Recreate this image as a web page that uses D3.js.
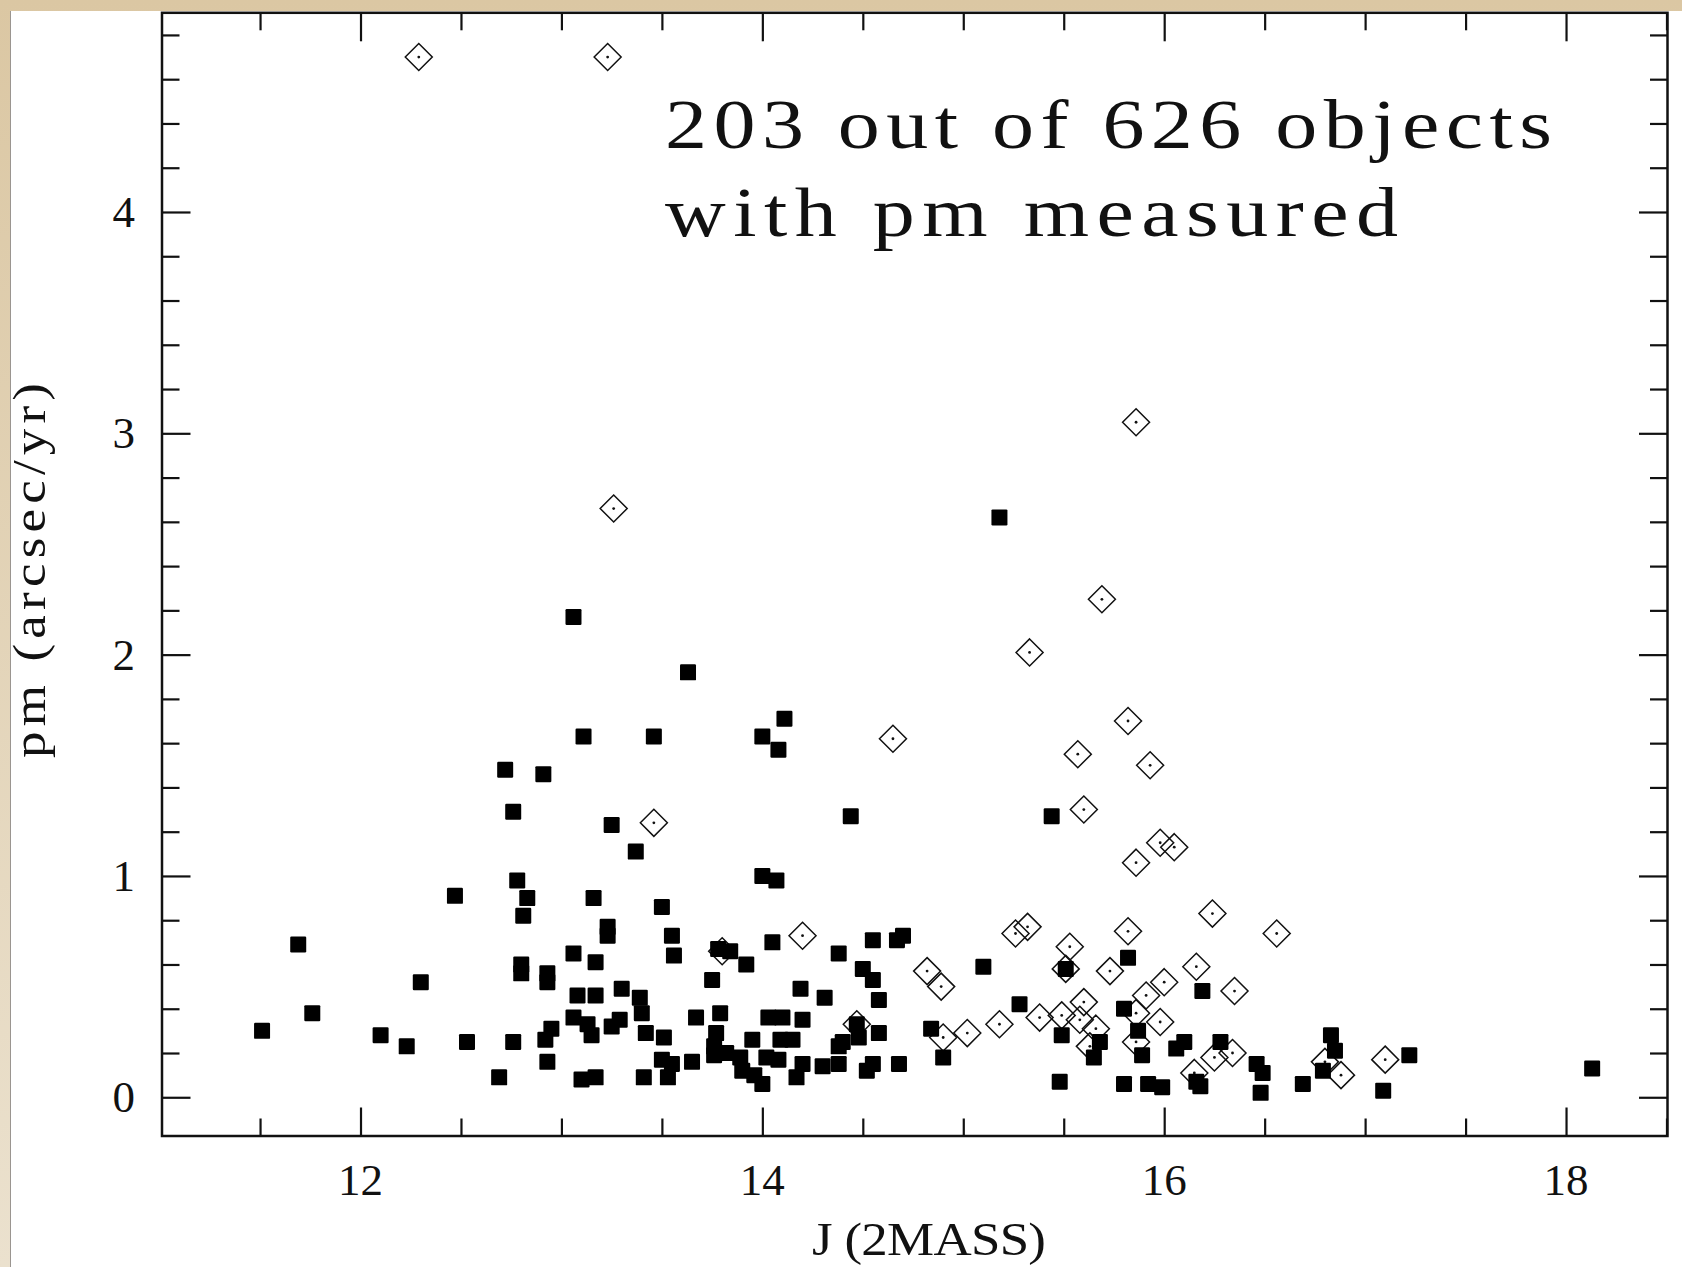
<!DOCTYPE html>
<html>
<head>
<meta charset="utf-8">
<script src="https://cdn.jsdelivr.net/npm/d3@7"></script>
<style>
  body { margin: 0; background: #e2d2b5; }
  svg { display: block; }
  text { font-family: "Liberation Serif", "DejaVu Serif", serif; fill: #111; }
</style>
</head>
<body>
<div id="chart"></div>
<script>
var w = 1682;
var h = 1267;

// objects measured, filled squares [J, pm]
var filledPts = [
  [11.51,0.30],[11.69,0.69],[11.76,0.38],[12.10,0.28],[12.23,0.23],[12.30,0.52],[12.47,0.91],
  [12.53,0.25],[12.69,0.09],[12.76,0.25],[12.78,0.98],[12.83,0.90],[12.81,0.82],[12.80,0.60],
  [12.80,0.56],[12.93,0.56],[12.93,0.52],[13.06,0.65],[13.08,0.46],[13.06,0.36],[12.95,0.31],
  [12.92,0.26],[12.93,0.16],[13.10,0.08],[13.17,0.09],
  [13.06,2.17],[13.63,1.92],[13.11,1.63],[13.46,1.63],[12.72,1.48],[12.91,1.46],[12.76,1.29],
  [13.25,1.23],[13.37,1.11],[14.11,1.71],[14.00,1.63],[14.08,1.57],[14.44,1.27],[14.00,1.00],
  [14.07,0.98],[15.18,2.62],[15.44,1.27],
  [13.16,0.90],[13.50,0.86],[13.23,0.77],[13.23,0.73],[13.55,0.73],[13.56,0.64],[13.17,0.61],
  [13.78,0.67],[13.84,0.66],[13.92,0.60],[14.05,0.70],[13.75,0.53],[14.38,0.65],[14.55,0.71],
  [14.50,0.58],[14.55,0.53],[14.58,0.44],[14.19,0.49],[14.31,0.45],[13.30,0.49],[13.17,0.46],
  [13.39,0.45],[13.40,0.38],[13.67,0.36],[13.79,0.38],[14.03,0.36],[14.10,0.36],[14.20,0.35],
  [13.29,0.35],[13.25,0.32],[13.13,0.33],[13.15,0.28],[13.42,0.29],[13.51,0.27],[13.77,0.29],
  [13.76,0.23],[13.95,0.26],[14.09,0.26],[14.15,0.26],[13.50,0.17],[13.55,0.15],[13.65,0.16],
  [13.76,0.19],[13.82,0.20],[13.89,0.18],[13.90,0.12],[13.96,0.10],[14.00,0.06],[14.02,0.18],
  [14.08,0.17],[14.17,0.09],[14.20,0.15],[14.30,0.14],[14.38,0.15],[14.38,0.23],[14.40,0.25],
  [14.47,0.33],[14.48,0.27],[14.52,0.12],[13.41,0.09],[13.53,0.09],
  [14.67,0.71],[14.70,0.73],[14.58,0.29],[14.55,0.15],[14.68,0.15],[15.10,0.59],[14.84,0.31],
  [14.90,0.18],[15.28,0.42],[15.51,0.58],[15.49,0.28],[15.48,0.07],[15.80,0.40],[15.82,0.63],
  [15.87,0.30],[15.89,0.19],[15.68,0.25],[15.65,0.18],[15.80,0.06],[15.92,0.06],[15.99,0.045],
  [16.19,0.48],[16.06,0.22],[16.10,0.25],[16.28,0.25],[16.46,0.15],[16.49,0.11],[16.48,0.02],
  [16.16,0.07],[16.18,0.05],[16.69,0.06],[16.83,0.28],[16.85,0.21],[16.79,0.12],[17.22,0.19],
  [17.09,0.03],[18.13,0.13]
];

// open diamonds [J, pm]
var openPts = [
  [12.29,4.70],[13.23,4.70],[15.86,3.05],[13.26,2.66],[15.69,2.25],[15.33,2.01],[15.82,1.70],
  [14.65,1.62],[15.57,1.55],[15.93,1.50],[15.60,1.30],[13.46,1.24],[15.98,1.15],[16.05,1.13],
  [15.86,1.06],[16.24,0.83],[14.20,0.73],[15.26,0.74],[15.32,0.77],[15.82,0.75],[16.56,0.74],
  [15.53,0.68],[13.80,0.66],[15.51,0.58],[15.73,0.57],[14.82,0.57],[14.89,0.50],[16.16,0.59],
  [16.00,0.52],[16.35,0.48],[15.60,0.43],[15.91,0.46],[15.38,0.36],[15.49,0.37],[15.58,0.35],
  [15.66,0.31],[15.86,0.38],[15.98,0.34],[15.18,0.33],[15.02,0.29],[14.90,0.27],[14.47,0.33],
  [15.63,0.23],[15.86,0.25],[16.25,0.18],[16.34,0.20],[16.15,0.11],[16.80,0.16],[16.88,0.10],
  [17.10,0.17]
];

var xMajor = [12, 14, 16, 18];
var yMajor = [0, 1, 2, 3, 4];
var xMinor = d3.range(11.5, 18.51, 0.5);
var yMinor = d3.range(0, 4.81, 0.2);

var pLeft = 162, pRight = 1667.5, pTop = 12.8, pBottom = 1136;

var xScale = d3.scaleLinear().domain([11.012, 18.505]).range([pLeft, pRight]);
var yScale = d3.scaleLinear().domain([-0.175, 4.9]).range([pBottom, pTop]);

var svg = d3.select("#chart").append("svg")
    .attr("width", w)
    .attr("height", h);

// page background and white panel
var grad = svg.append("defs").append("linearGradient")
    .attr("id", "bg").attr("x1", 0).attr("y1", 0).attr("x2", 0).attr("y2", 1);
grad.append("stop").attr("offset", "0%").attr("stop-color", "#dbc7a3");
grad.append("stop").attr("offset", "100%").attr("stop-color", "#ebe1ce");
svg.append("rect").attr("width", w).attr("height", h).attr("fill", "url(#bg)");
svg.append("rect").attr("x", 10).attr("y", 11).attr("width", w - 10).attr("height", h - 11).attr("fill", "#fff");
svg.append("line").attr("x1", 10.5).attr("x2", 10.5).attr("y1", 11).attr("y2", h)
    .attr("stroke", "#9a9590").attr("stroke-width", 1);

function styleAxis(g) {
    g.select(".domain").remove();
    g.selectAll("line").attr("stroke", "#111").attr("stroke-width", 2.2);
    g.selectAll("text").remove();
}

var xMinorOnly = xMinor.filter(function(v) { return xMajor.indexOf(v) < 0; });
var yMinorOnly = yMinor.filter(function(v) { return yMajor.indexOf(Math.round(v * 10) / 10) < 0; });

// bottom ticks (pointing up)
svg.append("g").attr("transform", "translate(0," + pBottom + ")")
    .call(d3.axisTop(xScale).tickValues(xMinorOnly).tickSize(17.5)).call(styleAxis);
svg.append("g").attr("transform", "translate(0," + pBottom + ")")
    .call(d3.axisTop(xScale).tickValues(xMajor).tickSize(28.5)).call(styleAxis);
// top ticks (pointing down)
svg.append("g").attr("transform", "translate(0," + pTop + ")")
    .call(d3.axisBottom(xScale).tickValues(xMinorOnly).tickSize(17.5)).call(styleAxis);
svg.append("g").attr("transform", "translate(0," + pTop + ")")
    .call(d3.axisBottom(xScale).tickValues(xMajor).tickSize(28.5)).call(styleAxis);
// left ticks
svg.append("g").attr("transform", "translate(" + pLeft + ",0)")
    .call(d3.axisRight(yScale).tickValues(yMinorOnly).tickSize(17.5)).call(styleAxis);
svg.append("g").attr("transform", "translate(" + pLeft + ",0)")
    .call(d3.axisRight(yScale).tickValues(yMajor).tickSize(28.5)).call(styleAxis);
// right ticks
svg.append("g").attr("transform", "translate(" + pRight + ",0)")
    .call(d3.axisLeft(yScale).tickValues(yMinorOnly).tickSize(17.5)).call(styleAxis);
svg.append("g").attr("transform", "translate(" + pRight + ",0)")
    .call(d3.axisLeft(yScale).tickValues(yMajor).tickSize(28.5)).call(styleAxis);

// frame
svg.append("rect")
    .attr("x", pLeft).attr("y", pTop)
    .attr("width", pRight - pLeft).attr("height", pBottom - pTop)
    .attr("fill", "none").attr("stroke", "#111").attr("stroke-width", 2.5);

// tick labels
svg.selectAll("text.xlab")
    .data(xMajor)
    .enter()
    .append("text")
    .attr("class", "xlab")
    .attr("x", function(d) { return xScale(d); })
    .attr("y", 1195)
    .attr("text-anchor", "middle")
    .attr("font-size", 45)
    .text(function(d) { return d; });

svg.selectAll("text.ylab")
    .data(yMajor)
    .enter()
    .append("text")
    .attr("class", "ylab")
    .attr("x", 135)
    .attr("y", function(d) { return yScale(d) + 15; })
    .attr("text-anchor", "end")
    .attr("font-size", 45)
    .text(function(d) { return d; });

// axis titles (glyphs widened a little, like the plotting font)
var sx = 1.15;
svg.append("text")
    .attr("transform", "translate(812,1255) scale(" + sx + ",1)")
    .attr("font-size", 46)
    .attr("textLength", 234 / sx).attr("lengthAdjust", "spacing")
    .text("J (2MASS)");

svg.append("text")
    .attr("transform", "translate(45,758) rotate(-90) scale(" + sx + ",1)")
    .attr("font-size", 46)
    .attr("textLength", 375 / sx).attr("lengthAdjust", "spacing")
    .text("pm (arcsec/yr)");

// annotation
var sa = 1.2;
svg.append("text")
    .attr("transform", "translate(665,147.5) scale(" + sa + ",1)")
    .attr("font-size", 70)
    .attr("textLength", 887 / sa).attr("lengthAdjust", "spacing")
    .text("203 out of 626 objects");
svg.append("text")
    .attr("transform", "translate(665,236) scale(" + sa + ",1)")
    .attr("font-size", 70)
    .attr("textLength", 733 / sa).attr("lengthAdjust", "spacing")
    .text("with pm measured");

// open diamonds with a centre dot
var dia = svg.append("g").selectAll("g")
    .data(openPts)
    .enter()
    .append("g")
    .attr("transform", function(d) {
        return "translate(" + xScale(d[0]) + "," + yScale(d[1]) + ")";
    });
dia.append("path")
    .attr("d", "M0,-13.5L13.5,0L0,13.5L-13.5,0Z")
    .attr("fill", "none")
    .attr("stroke", "#111")
    .attr("stroke-width", 1.5);
dia.append("circle")
    .attr("r", 1.4)
    .attr("fill", "#111");

// filled squares
svg.append("g").selectAll("rect")
    .data(filledPts)
    .enter()
    .append("rect")
    .attr("x", function(d) { return xScale(d[0]) - 8; })
    .attr("y", function(d) { return yScale(d[1]) - 8; })
    .attr("width", 16)
    .attr("height", 16)
    .attr("rx", 1.2)
    .attr("fill", "#000");
</script>
</body>
</html>
